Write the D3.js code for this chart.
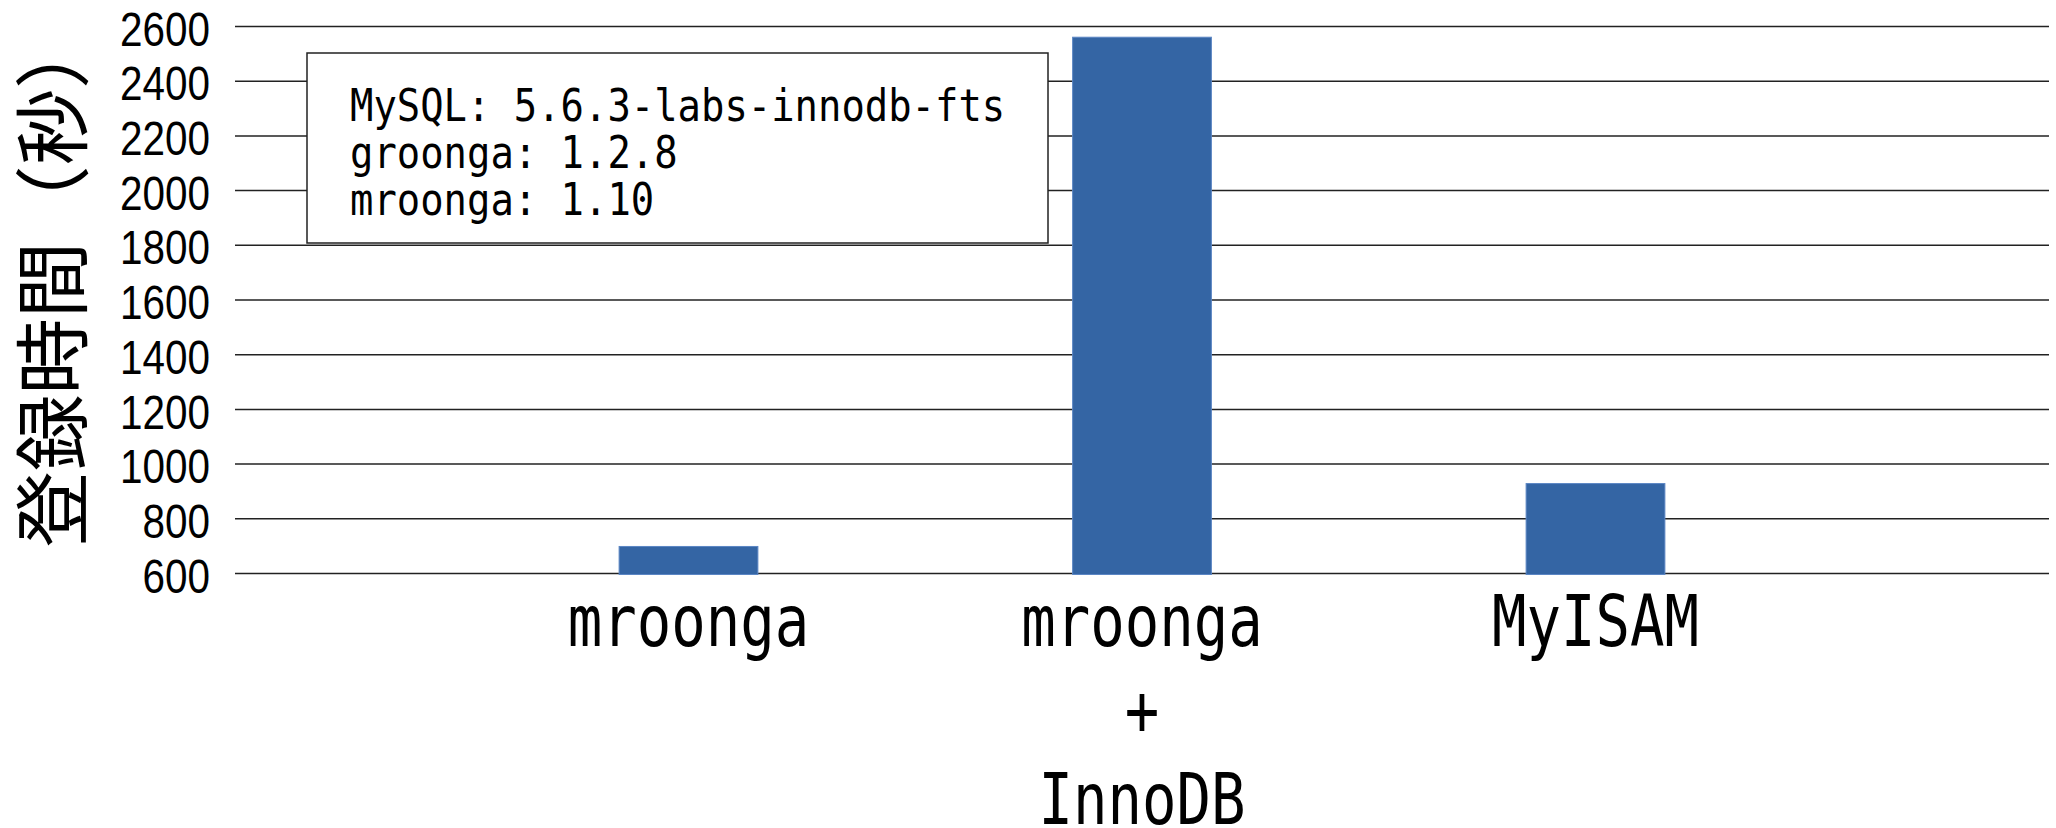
<!DOCTYPE html>
<html>
<head>
<meta charset="utf-8">
<script src="https://cdn.jsdelivr.net/npm/d3@7"></script>
<style>
  body { margin: 0; background: #fff; }
  svg { display: block; }
</style>
</head>
<body>
<svg id="chart"></svg>
<script>
// 登録時間 (seconds) per storage engine
const categories = ['mroonga', 'mroonga\n+\nInnoDB', 'MyISAM'];
const loadTimes = [697, 2559, 927];
const yTicks = [600, 800, 1000, 1200, 1400, 1600, 1800, 2000, 2200, 2400, 2600];
const versionLines = ['MySQL: 5.6.3-labs-innodb-fts', 'groonga: 1.2.8', 'mroonga: 1.10'];
const yTitle = '登録時間（秒）';

class loadTimeBarChart {

    constructor(_config, _data) {
        this.config = {
            parentElement: _config.parentElement,
            containerWidth: _config.containerWidth || 2056,
            containerHeight: _config.containerHeight || 828,
            margin: _config.margin || { top: 26, right: 7, bottom: 255, left: 235 }
        }
        this.data = _data;
        this.initVis();
    }

    initVis() {
        let vis = this;

        vis.width = vis.config.containerWidth - vis.config.margin.left - vis.config.margin.right;
        vis.height = vis.config.containerHeight - vis.config.margin.top - vis.config.margin.bottom;

        vis.svg = d3.select(vis.config.parentElement)
            .attr('width', vis.config.containerWidth)
            .attr('height', vis.config.containerHeight);

        // one empty slot on each side, like the original
        vis.xScale = d3.scalePoint()
            .domain(categories)
            .range([0, vis.width])
            .padding(1);

        vis.yScale = d3.scaleLinear()
            .domain([600, 2600])
            .range([vis.height, 0]);

        vis.yAxis = d3.axisLeft(vis.yScale)
            .tickValues(yTicks)
            .tickSize(-vis.width)
            .tickPadding(25)
            .tickFormat(d3.format('d'));

        vis.chart = vis.svg.append('g')
            .attr('transform', `translate(${vis.config.margin.left},${vis.config.margin.top})`);

        vis.yAxisGroup = vis.chart.append('g')
            .attr('class', 'y-axis');

        vis.barGroup = vis.chart.append('g');

        vis.xAxisGroup = vis.chart.append('g')
            .attr('class', 'x-axis')
            .attr('transform', `translate(0, ${vis.height})`);

        // y axis title
        vis.svg.append('text')
            .attr('transform', 'translate(47.5, 280) rotate(-90)')
            .attr('text-anchor', 'middle')
            .attr('dominant-baseline', 'central')
            .attr('font-family', '"Noto Sans CJK JP", sans-serif')
            .attr('font-size', 76)
            .attr('textLength', 535)
            .attr('lengthAdjust', 'spacingAndGlyphs')
            .text(yTitle);

        vis.updateVis();
    }

    updateVis() {
        let vis = this;
        vis.renderVis();
    }

    renderVis() {
        let vis = this;

        vis.yAxisGroup.call(vis.yAxis);
        vis.yAxisGroup.select('.domain').remove();
        vis.yAxisGroup.selectAll('.tick line')
            .attr('stroke', '#222')
            .attr('stroke-width', 1.5);
        vis.yAxisGroup.selectAll('.tick text')
            .attr('font-family', '"Liberation Sans", Arial, sans-serif')
            .attr('font-size', 49)
            .attr('fill', '#000')
            .attr('dy', '0.39em')
            .attr('textLength', d => String(d).length * 22.5)
            .attr('lengthAdjust', 'spacingAndGlyphs');

        const barW = vis.xScale.step() * 0.306;

        vis.barGroup.selectAll('rect')
            .data(vis.data)
            .join('rect')
            .attr('x', d => vis.xScale(d.category) - barW / 2)
            .attr('y', d => vis.yScale(d.value))
            .attr('width', barW)
            .attr('height', d => vis.height - vis.yScale(d.value) + 1.5)
            .attr('fill', '#3465a4')
            .attr('stroke', '#5b86c4')
            .attr('stroke-width', 1);

        // category labels, split over lines
        vis.xAxisGroup.selectAll('g.cat')
            .data(categories)
            .join('g')
            .attr('class', 'cat')
            .attr('transform', d => `translate(${vis.xScale(d)},0)`)
            .each(function(d) {
                d3.select(this).selectAll('text')
                    .data(d.split('\n'))
                    .join('text')
                    .attr('y', (line, i) => 73 + i * 88.8)
                    .attr('text-anchor', 'middle')
                    .attr('font-family', '"DejaVu Sans Mono", monospace')
                    .attr('font-size', 72)
                    .attr('textLength', line => line.length * 34.5)
                    .attr('lengthAdjust', 'spacingAndGlyphs')
                    .text(line => line);
            });

        // version note box
        const note = vis.svg.append('g');
        note.append('rect')
            .attr('x', 307)
            .attr('y', 53)
            .attr('width', 741)
            .attr('height', 190)
            .attr('fill', '#fff')
            .attr('stroke', '#222')
            .attr('stroke-width', 1.5);
        note.selectAll('text')
            .data(versionLines)
            .join('text')
            .attr('x', 350)
            .attr('y', (d, i) => 121 + i * 47)
            .attr('font-family', '"DejaVu Sans Mono", monospace')
            .attr('font-size', 44.5)
            .attr('textLength', d => d.length * 23.4)
            .attr('lengthAdjust', 'spacingAndGlyphs')
            .text(d => d);
    }
}

const barData = categories.map((c, i) => ({ category: c, value: loadTimes[i] }));
new loadTimeBarChart({ parentElement: '#chart' }, barData);
</script>
</body>
</html>
